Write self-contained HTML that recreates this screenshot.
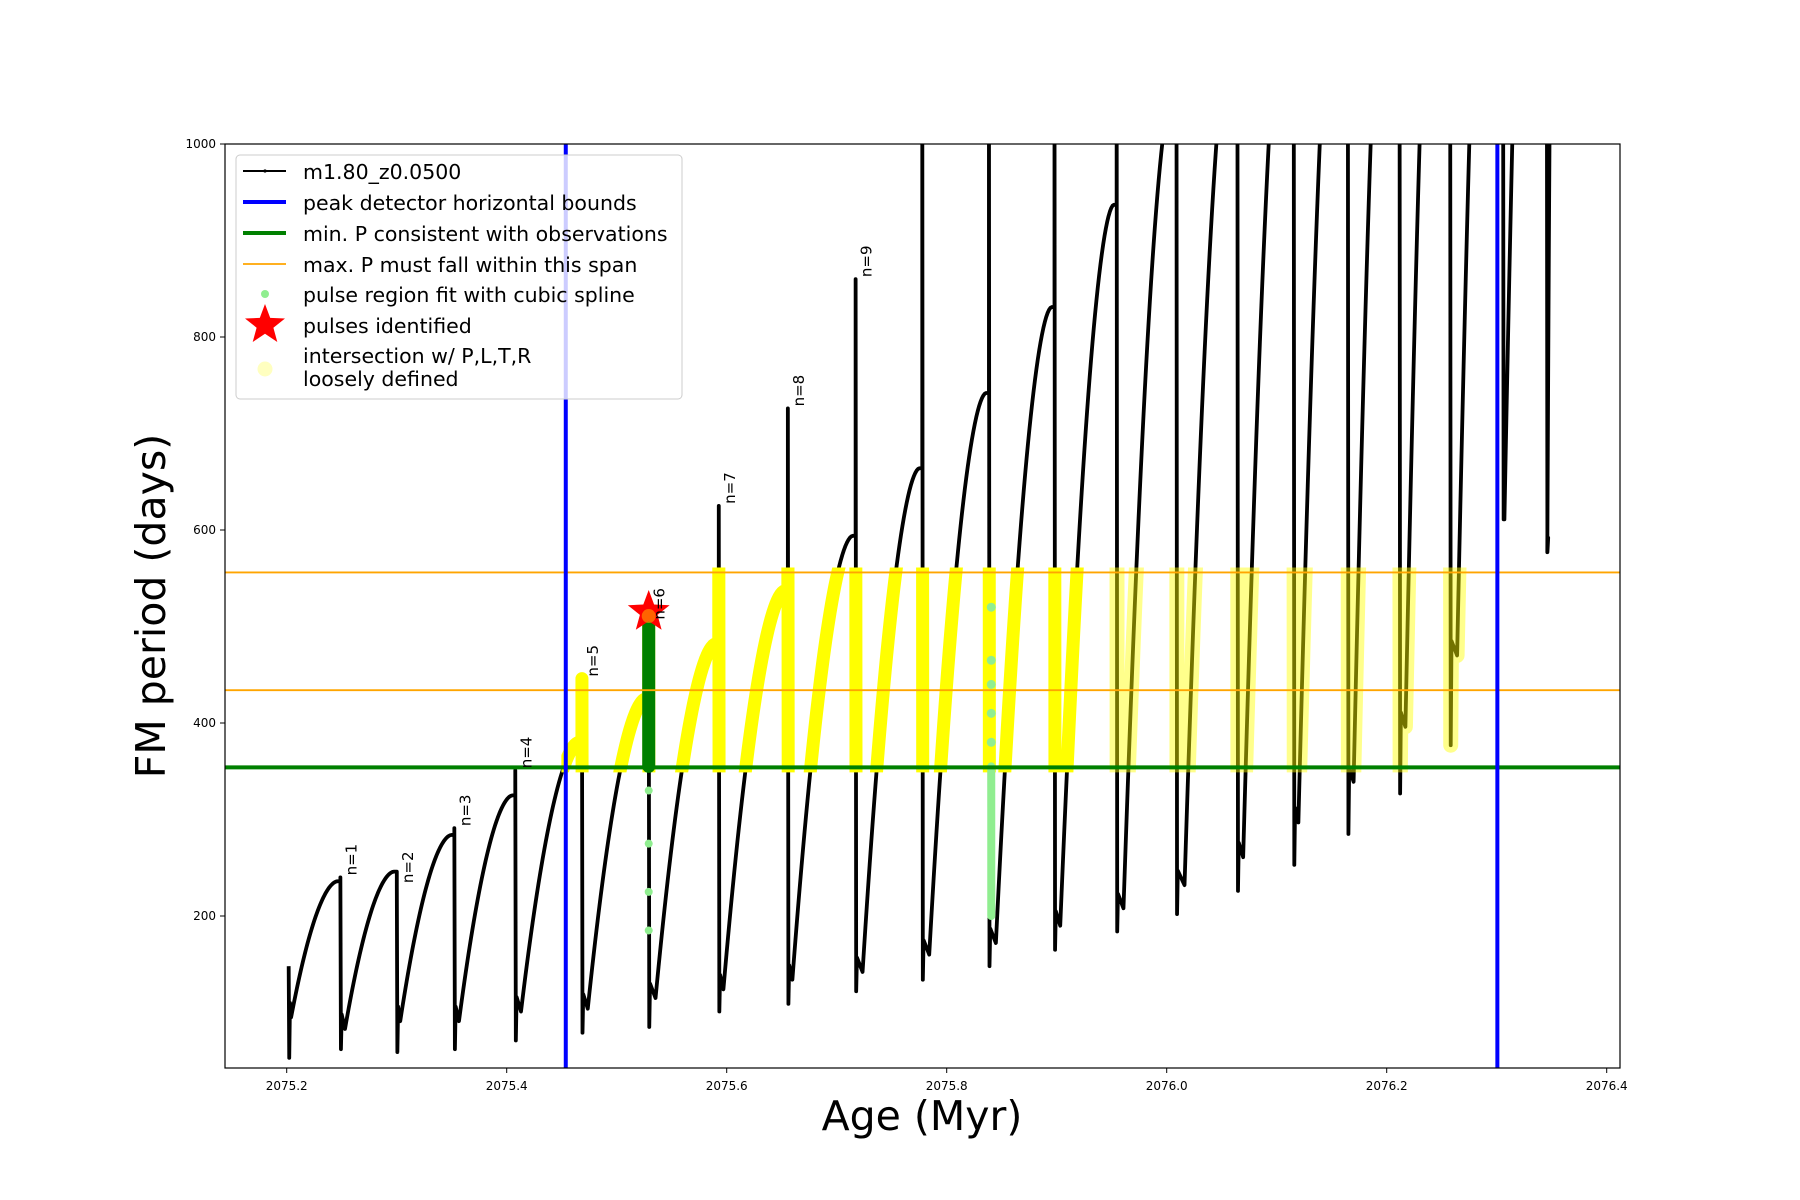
<!DOCTYPE html>
<html><head><meta charset="utf-8"><style>
html,body{margin:0;padding:0;background:#fff;}
svg{display:block;font-family:"DejaVu Sans","Liberation Sans",sans-serif;}
</style></head><body>
<svg id="chart" width="1800" height="1200" viewBox="0 0 1800 1200" xmlns="http://www.w3.org/2000/svg">
<defs>
<clipPath id="axclip"><rect x="225" y="144" width="1395" height="924"/></clipPath>
</defs>
<rect x="0" y="0" width="1800" height="1200" fill="#fff"/>
<g id="plot" clip-path="url(#axclip)"></g>
<rect x="225" y="144" width="1395" height="924" fill="none" stroke="#000" stroke-width="1.2"/>
<g id="ticks"></g>
<text x="922" y="1130" font-size="41" text-anchor="middle">Age (Myr)</text>
<text transform="translate(165,606) rotate(-90)" font-size="41" text-anchor="middle">FM period (days)</text>
<g id="legend">
<rect x="236" y="155" width="446" height="244" rx="4" fill="#fff" fill-opacity="0.8" stroke="#ccc" stroke-width="1"/>
<g><line x1="243" y1="171" x2="286" y2="171" stroke="#000" stroke-width="2"/><circle cx="265" cy="171" r="1.6" fill="#000"/><text x="303" y="179" font-size="20.5">m1.80_z0.0500</text></g>
<g><line x1="243" y1="202" x2="286" y2="202" stroke="#0000ff" stroke-width="4"/><text x="303" y="210" font-size="20.5">peak detector horizontal bounds</text></g>
<g><line x1="243" y1="233" x2="286" y2="233" stroke="#008000" stroke-width="4"/><text x="303" y="241" font-size="20.5">min. P consistent with observations</text></g>
<g><line x1="243" y1="264" x2="286" y2="264" stroke="#ffa500" stroke-width="1.8"/><text x="303" y="272" font-size="20.5">max. P must fall within this span</text></g>
<g><circle cx="265" cy="294" r="4" fill="#90ee90"/><text x="303" y="302" font-size="20.5">pulse region fit with cubic spline</text></g>
<g><polygon id="legstar" fill="#ff0000"/><text x="303" y="333" font-size="20.5">pulses identified</text></g>
<g><circle cx="265" cy="369" r="7.5" fill="#ffffc0"/><text x="303" y="363" font-size="20.5">intersection w/ P,L,T,R</text><text x="303" y="386" font-size="20.5">loosely defined</text></g>
</g>
</svg>
<script>
const pulseAges=[2075.2018,2075.2488,2075.3001,2075.3524,2075.4078,2075.4684,2075.5291,2075.5928,2075.6556,2075.7172,2075.7778,2075.8384,2075.8980,2075.9545,2076.0089,2076.0643,2076.1155,2076.1647,2076.2117,2076.2577,2076.3058,2076.3456];
const spikeTops=[148,240,232,291,351,446,505,625,726,860,1100,1100,1100,1100,1100,1100,1100,1100,1100,1100,1100,1100];
const dropVals=[53,62,59,62,71,79,85,101,109,122,134,148,165,184,202,226,253,285,327,377,611,577];
const minAges=[2075.2040,2075.2530,2075.3032,2075.3566,2075.4130,2075.4737,2075.5353,2075.5970,2075.6597,2075.7235,2075.7841,2075.8447,2075.9032,2075.9607,2076.0162,2076.0695,2076.1197,2076.1699,2076.2170,2076.2640,2076.3070,2076.3460];
const minVals=[95,83,91,91,101,104,115,124,134,142,160,172,190,208,232,261,297,339,396,470,611,577];
const peakVals=[236,246,284,325,380,425,482,537,594,664,742,831,937,1060,1150,1250,1350,1450,1550,1650,1800,1400];
const lastAge=2076.352;
const peakBounds=[2075.4537,2076.3006];
const minP=354;
const maxPSpan=[434,556];
const labelNames=["n=1","n=2","n=3","n=4","n=5","n=6","n=7","n=8","n=9"];
const labelPulses=[1,2,3,4,5,6,7,8,9];
const starAge=2075.5291, starP=515;
const splineGreenRange=[355,500];
const splineDots6=[330,275,225,185];
const splineAge11=2075.8405;
const splineRange11=[200,355];
const splineDots11=[380,410,440,465,520];
const xTicks=[2075.2,2075.4,2075.6,2075.8,2076.0,2076.2,2076.4];
const yTicks=[200,400,600,800,1000];

const NS="http://www.w3.org/2000/svg";
const X=a=>286.7+(a-2075.2)*1100;
const Y=p=>144+(1000-p)*0.965;
function mk(tag,attrs,parent){const e=document.createElementNS(NS,tag);for(const k in attrs)e.setAttribute(k,attrs[k]);parent.appendChild(e);return e;}
const plot=document.getElementById('plot');
const ticks=document.getElementById('ticks');

let d="";
for(let k=0;k<pulseAges.length;k++){
  const t=pulseAges[k];
  if(k===0) d+=`M${X(t)},${Y(spikeTops[k])}`;
  else d+=`L${X(t)},${Y(peakVals[k-1])}L${X(t)},${Y(spikeTops[k])}`;
  d+=`L${X(t+0.0005)},${Y(dropVals[k])}`;
  d+=`L${X(t+0.0012)},${Y(minVals[k]+15)}`;
  d+=`L${X(minAges[k])},${Y(minVals[k])}`;
  const pa=(k+1<pulseAges.length)?pulseAges[k+1]-0.0025:lastAge;
  for(let i=1;i<=40;i++){const u=i/40;const p=minVals[k]+(peakVals[k]-minVals[k])*(1-Math.pow(1-u,1.8));d+=`L${X(minAges[k]+(pa-minAges[k])*u)},${Y(p)}`;}
}
const curve=mk('path',{d:d,fill:'none',stroke:'#000','stroke-width':3.8,'stroke-linejoin':'round'},plot);



const defs=document.querySelector('defs');
const pad=5;
const c1=mk('clipPath',{id:'ysolid'},defs);
mk('rect',{x:X(peakBounds[0]-0.004),y:Y(maxPSpan[1])-pad,width:X(2075.93)-X(peakBounds[0]-0.004),height:Y(minP)-Y(maxPSpan[1])+2*pad},c1);
const c2=mk('clipPath',{id:'ypale'},defs);
mk('rect',{x:X(2075.93),y:Y(maxPSpan[1])-pad,width:X(peakBounds[1]+0.004)-X(2075.93),height:Y(minP)-Y(maxPSpan[1])+2*pad},c2);
const g1=mk('g',{'clip-path':'url(#ysolid)'},plot);
const y1=mk('path',{d:d,fill:'none',stroke:'#ffff00','stroke-width':13,'stroke-linejoin':'round','stroke-linecap':'round'},g1);


const g2=mk('g',{'clip-path':'url(#ypale)'},plot);
const y2=mk('path',{d:d,fill:'none',stroke:'#ffff00','stroke-opacity':0.45,'stroke-width':15,'stroke-linejoin':'round','stroke-linecap':'round'},g2);



const gr=mk('line',{x1:X(starAge),x2:X(starAge),y1:Y(splineGreenRange[0]),y2:Y(splineGreenRange[1]),stroke:'#008000','stroke-width':13,'stroke-linecap':'round'},plot);


splineDots6.forEach(v=>{const c=mk('circle',{cx:X(starAge),cy:Y(v),r:4,fill:'#90ee90'},plot);

});
const lg=mk('line',{x1:X(splineAge11),x2:X(splineAge11),y1:Y(splineRange11[0]),y2:Y(splineRange11[1]),stroke:'#90ee90','stroke-width':8,'stroke-linecap':'round'},plot);


splineDots11.forEach(v=>{const c=mk('circle',{cx:X(splineAge11),cy:Y(v),r:4.5,fill:'#90ee90'},plot);

});

const gl=mk('line',{x1:225,x2:1620,y1:Y(minP),y2:Y(minP),stroke:'#008000','stroke-width':4},plot);


maxPSpan.forEach(v=>{const l=mk('line',{x1:225,x2:1620,y1:Y(v),y2:Y(v),stroke:'#ffa500','stroke-width':1.8},plot);

});
peakBounds.forEach(v=>{const l=mk('line',{x1:X(v),x2:X(v),y1:144,y2:1068,stroke:'#0000ff','stroke-width':4},plot);

});

function starPts(cx,cy,R){const r=R*0.42;let s=[];for(let i=0;i<10;i++){const a=-Math.PI/2+i*Math.PI/5;const rr=i%2?r:R;s.push((cx+rr*Math.cos(a)).toFixed(1)+','+(cy+rr*Math.sin(a)).toFixed(1));}return s.join(' ');}
const st=mk('polygon',{points:starPts(X(starAge),Y(starP),22),fill:'#ff0000'},plot);


const sc=mk('circle',{cx:X(starAge),cy:Y(starP)+4,r:7,fill:'#ffa500','fill-opacity':0.6},plot);


document.getElementById('legstar').setAttribute('points',starPts(265,325,21));

labelNames.forEach((n,i)=>{const k=labelPulses[i];const x=X(pulseAges[k])+16,y=Y(spikeTops[k])-2;
const t=mk('text',{transform:`translate(${x},${y}) rotate(-90)`,'font-size':15},plot);t.textContent=n;

});

xTicks.forEach(v=>{mk('line',{x1:X(v),x2:X(v),y1:1068,y2:1073,stroke:'#000','stroke-width':1},ticks);
const t=mk('text',{x:X(v),y:1090,'font-size':12,'text-anchor':'middle'},ticks);t.textContent=v.toFixed(1);

});
yTicks.forEach(v=>{mk('line',{x1:220,x2:225,y1:Y(v),y2:Y(v),stroke:'#000','stroke-width':1},ticks);
const t=mk('text',{x:216,y:Y(v)+4,'font-size':12,'text-anchor':'end'},ticks);t.textContent=v;

});
</script>
</body></html>
